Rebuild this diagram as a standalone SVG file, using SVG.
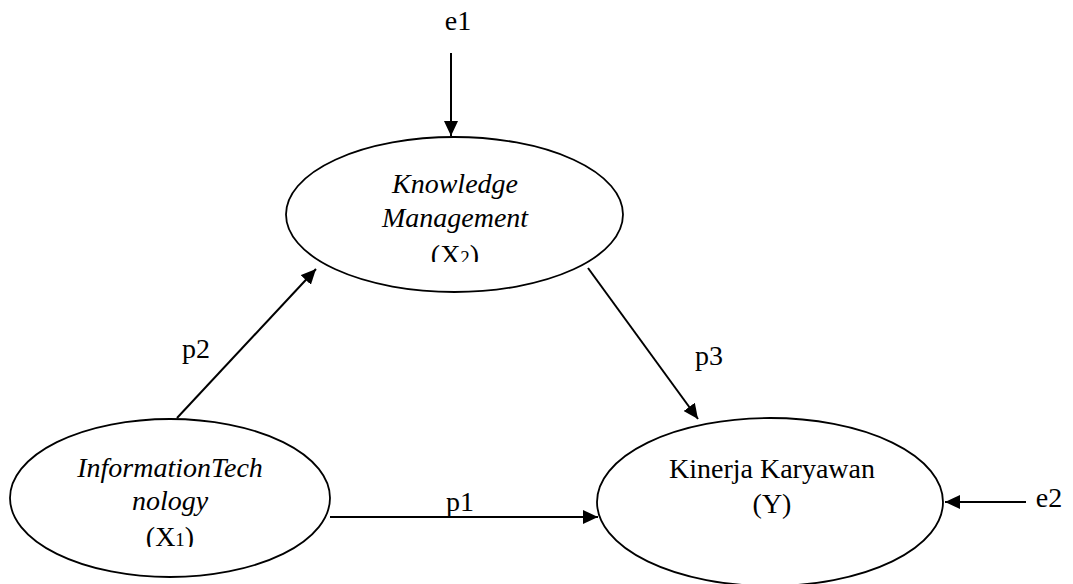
<svg xmlns="http://www.w3.org/2000/svg" width="1073" height="584" viewBox="0 0 1073 584">
<style>
text{font-family:"Liberation Serif","Times New Roman",serif;font-size:28px;fill:#000}
.it{font-style:italic}
.sub{font-size:19px}
.node{fill:#fff;stroke:#000;stroke-width:1.8}
.edge{stroke:#000;stroke-width:2;fill:none}
</style>
<defs>
<marker id="arr" markerUnits="userSpaceOnUse" markerWidth="16" markerHeight="14" refX="15" refY="7" orient="auto">
<path d="M0,0 L15,7 L0,14 Z" fill="#000"/>
</marker>
<clipPath id="c2"><rect x="400" y="230" width="120" height="32"/></clipPath>
<clipPath id="c1"><rect x="110" y="515" width="120" height="32"/></clipPath>
</defs>
<g id="connectors">
<line class="edge" x1="451" y1="53" x2="451" y2="136" marker-end="url(#arr)"/>
<line class="edge" x1="177" y1="418" x2="316" y2="269" marker-end="url(#arr)"/>
<line class="edge" x1="588" y1="268" x2="698" y2="419" marker-end="url(#arr)"/>
<line class="edge" x1="330" y1="517" x2="598" y2="517" marker-end="url(#arr)"/>
<line class="edge" x1="1026" y1="502" x2="945" y2="502" marker-end="url(#arr)"/>
<text x="460" y="511" text-anchor="middle">p1</text>
<text x="196" y="358" text-anchor="middle">p2</text>
<text x="709" y="365" text-anchor="middle">p3</text>
</g>
<g id="e1"><text x="458" y="30" text-anchor="middle">e1</text></g>
<g id="e2"><text x="1049" y="507" text-anchor="middle">e2</text></g>
<g id="km">
<ellipse class="node" cx="454.5" cy="214.5" rx="168.5" ry="77.5"/>
<text class="it" x="455" y="193" text-anchor="middle">Knowledge</text>
<text class="it" x="455" y="227" text-anchor="middle">Management</text>
<text x="455" y="264" text-anchor="middle" clip-path="url(#c2)">(X<tspan class="sub">2</tspan>)</text>
</g>
<g id="it">
<ellipse class="node" cx="170" cy="498" rx="160" ry="79"/>
<text class="it" x="170" y="477" text-anchor="middle">InformationTech</text>
<text class="it" x="170" y="510" text-anchor="middle">nology</text>
<text x="170" y="546" text-anchor="middle" clip-path="url(#c1)">(X<tspan class="sub">1</tspan>)</text>
</g>
<g id="y">
<ellipse class="node" cx="770" cy="502" rx="173" ry="84"/>
<text x="772" y="478" text-anchor="middle">Kinerja Karyawan</text>
<text x="772" y="513" text-anchor="middle">(Y)</text>
</g>
</svg>
